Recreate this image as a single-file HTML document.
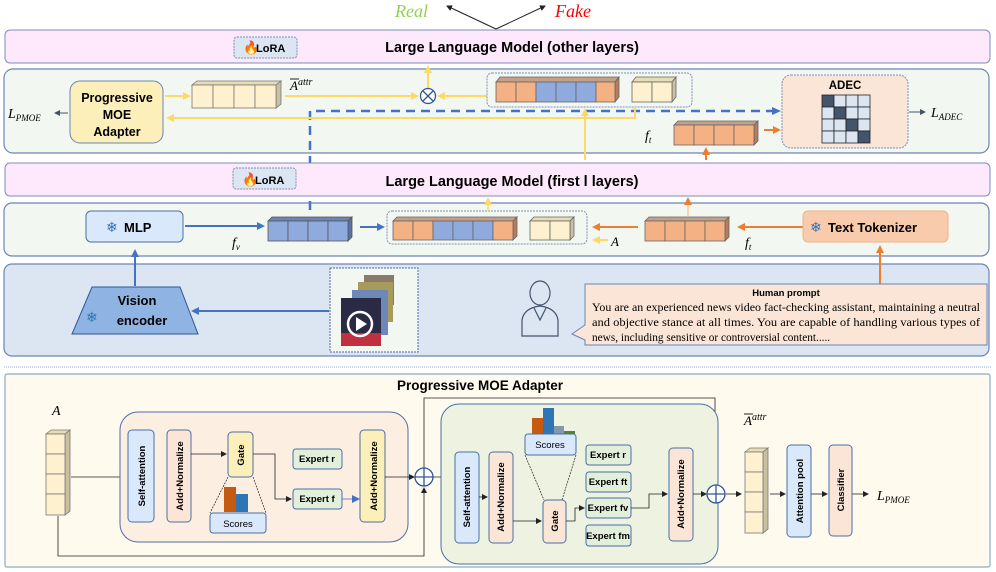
<!DOCTYPE html>
<html><head><meta charset="utf-8"><style>
body{margin:0;background:#fff}
svg{display:block}
text{font-family:"Liberation Sans",sans-serif}
text.serif, .serif text{font-family:"Liberation Serif",serif}
.b{font-weight:bold}
.m{font-family:"Liberation Serif",serif;font-style:italic}
</style></head><body>
<svg width="996" height="572" viewBox="0 0 996 572" xmlns="http://www.w3.org/2000/svg">
<defs>
<marker id="ay" markerWidth="8" markerHeight="8" refX="6" refY="4" orient="auto" markerUnits="userSpaceOnUse"><path d="M0,0 L8,4 L0,8z" fill="#ffd966"/></marker>
<marker id="ab" markerWidth="8" markerHeight="8" refX="6" refY="4" orient="auto" markerUnits="userSpaceOnUse"><path d="M0,0 L8,4 L0,8z" fill="#4472c4"/></marker>
<marker id="ao" markerWidth="8" markerHeight="8" refX="6" refY="4" orient="auto" markerUnits="userSpaceOnUse"><path d="M0,0 L8,4 L0,8z" fill="#ed7d31"/></marker>
<marker id="ak" markerWidth="6" markerHeight="6" refX="5" refY="3" orient="auto" markerUnits="userSpaceOnUse"><path d="M0,0 L6,3 L0,6z" fill="#222"/></marker>
<marker id="ag" markerWidth="6" markerHeight="6" refX="5" refY="3" orient="auto" markerUnits="userSpaceOnUse"><path d="M0,0 L6,3 L0,6z" fill="#44546a"/></marker>
</defs>

<text x="395" y="17" fill="#92d050" font-size="18" class="serif" font-style="italic">Real</text>
<text x="555" y="17" fill="#ff0000" font-size="18" class="serif" font-style="italic">Fake</text>
<line x1="496" y1="29" x2="447" y2="6" stroke="#222" marker-end="url(#ak)"/>
<line x1="496" y1="29" x2="545" y2="6" stroke="#222" marker-end="url(#ak)"/>

<rect x="5" y="30" width="985" height="33" rx="5" fill="#fde9fb" stroke="#7d8fb5"/>
<rect x="234" y="37" width="63" height="21" rx="3" fill="#dce6f2" stroke="#7d8fb5" stroke-dasharray="2,1"/>
<text x="243" y="52" font-size="13" fill="#e25b00">🔥</text>
<text x="256" y="52" font-size="11" class="b">LoRA</text>
<text x="512" y="52" font-size="14.5" class="b" text-anchor="middle">Large Language Model (other layers)</text>

<rect x="4" y="69" width="985" height="84" rx="9" fill="#f3f7f1" stroke="#6b84b5" stroke-width="1.2"/>
<rect x="70" y="81" width="93" height="62" rx="10" fill="#fdefb9" stroke="#6b84b5"/>
<text x="117" y="102" font-size="12.5" class="b" text-anchor="middle">Progressive</text>
<text x="117" y="119" font-size="12.5" class="b" text-anchor="middle">MOE</text>
<text x="117" y="136" font-size="12.5" class="b" text-anchor="middle">Adapter</text>
<line x1="68" y1="113" x2="55" y2="113" stroke="#44546a" marker-end="url(#ag)"/>
<text x="8" y="118" font-size="14" class="m">L<tspan font-size="9" dy="3">PMOE</tspan></text>
<line x1="165" y1="96" x2="189" y2="96" stroke="#ffd966" stroke-width="2" marker-end="url(#ay)"/>
<g stroke="#777" stroke-width="0.8">
<polygon points="192,85 197,81 281,81 276,85" fill="#e8dcb5"/><polygon points="276,85 281,81 281,104 276,108" fill="#c9c0a0"/>
<rect x="192" y="85" width="21" height="23" fill="#fdf1cf"/><rect x="213" y="85" width="21" height="23" fill="#fdf1cf"/><rect x="234" y="85" width="21" height="23" fill="#fdf1cf"/><rect x="255" y="85" width="21" height="23" fill="#fdf1cf"/>
</g>
<text x="290" y="90" font-size="13" class="m">A<tspan font-size="10" dy="-5">attr</tspan></text>
<line x1="290" y1="79" x2="299" y2="79" stroke="#222"/>
<line x1="285" y1="96" x2="417" y2="96" stroke="#ffd966" stroke-width="2" marker-end="url(#ay)"/>
<line x1="487" y1="96" x2="439" y2="96" stroke="#ffd966" stroke-width="2" marker-end="url(#ay)"/>
<line x1="428" y1="88" x2="428" y2="67" stroke="#ffd966" stroke-width="2" marker-end="url(#ay)"/>
<circle cx="428" cy="96" r="7.5" fill="#fff" stroke="#2f5597" stroke-width="1.3"/>
<path d="M423,91 L433,101 M433,91 L423,101" stroke="#2f5597" stroke-width="1.3"/>
<rect x="487" y="73" width="205" height="34" rx="5" fill="none" stroke="#7d8fb5" stroke-dasharray="2,1"/>
<g stroke="#666" stroke-width="0.8">
<polygon points="496,82 500,77 619,77 615,82" fill="#c5a089"/><polygon points="615,82 619,77 619,97 615,102" fill="#b47d5c"/>
<rect x="496" y="82" width="20" height="20" fill="#f4b183"/><rect x="516" y="82" width="20" height="20" fill="#f4b183"/>
<rect x="536" y="82" width="20" height="20" fill="#8faadc"/><rect x="556" y="82" width="20" height="20" fill="#8faadc"/><rect x="576" y="82" width="20" height="20" fill="#8faadc"/>
<rect x="596" y="82" width="19" height="20" fill="#f4b183"/>
<polygon points="632,82 636,77 676,77 672,82" fill="#e8dcb5"/><polygon points="672,82 676,77 676,97 672,102" fill="#c9c0a0"/>
<rect x="632" y="82" width="20" height="20" fill="#fdf1cf"/><rect x="652" y="82" width="20" height="20" fill="#fdf1cf"/>
</g>
<path d="M310,210 L310,111 L776,111" fill="none" stroke="#4472c4" stroke-width="2.5" stroke-dasharray="9,6"/>
<path d="M772,107 L781,111 L772,115z" fill="#4472c4"/>
<path d="M635,107 L635,118 L170,118" fill="none" stroke="#ffd966" stroke-width="2"/>
<path d="M174,114 L166,118 L174,122z" fill="#ffd966"/>
<line x1="585" y1="160" x2="585" y2="110" stroke="#ffd966" stroke-width="2" marker-end="url(#ay)"/>
<rect x="782" y="75" width="126" height="73" rx="9" fill="#fbe5d6" stroke="#7d8fb5" stroke-dasharray="2,1"/>
<text x="845" y="89" font-size="11.5" class="b" text-anchor="middle">ADEC</text>
<g stroke="#222" stroke-width="0.8">
<rect x="822" y="95" width="12" height="12" fill="#44546a"/><rect x="834" y="95" width="12" height="12" fill="#dce6f2"/><rect x="846" y="95" width="12" height="12" fill="#dce6f2"/><rect x="858" y="95" width="12" height="12" fill="#dce6f2"/>
<rect x="822" y="107" width="12" height="12" fill="#dce6f2"/><rect x="834" y="107" width="12" height="12" fill="#44546a"/><rect x="846" y="107" width="12" height="12" fill="#dce6f2"/><rect x="858" y="107" width="12" height="12" fill="#dce6f2"/>
<rect x="822" y="119" width="12" height="12" fill="#dce6f2"/><rect x="834" y="119" width="12" height="12" fill="#dce6f2"/><rect x="846" y="119" width="12" height="12" fill="#44546a"/><rect x="858" y="119" width="12" height="12" fill="#dce6f2"/>
<rect x="822" y="131" width="12" height="12" fill="#dce6f2"/><rect x="834" y="131" width="12" height="12" fill="#dce6f2"/><rect x="846" y="131" width="12" height="12" fill="#dce6f2"/><rect x="858" y="131" width="12" height="12" fill="#44546a"/>
</g>
<line x1="909" y1="112" x2="925" y2="112" stroke="#44546a" marker-end="url(#ag)"/>
<text x="931" y="117" font-size="14" class="m">L<tspan font-size="9" dy="3">ADEC</tspan></text>
<text x="645" y="140" font-size="14" class="m">f<tspan font-size="9" dy="3">t</tspan></text>
<g stroke="#666" stroke-width="0.8">
<polygon points="674,125 678,121 758,121 754,125" fill="#c5a089"/><polygon points="754,125 758,121 758,141 754,145" fill="#b47d5c"/>
<rect x="674" y="125" width="20" height="20" fill="#f4b183"/><rect x="694" y="125" width="20" height="20" fill="#f4b183"/><rect x="714" y="125" width="20" height="20" fill="#f4b183"/><rect x="734" y="125" width="20" height="20" fill="#f4b183"/>
</g>
<line x1="764" y1="130" x2="779" y2="130" stroke="#ed7d31" stroke-width="2" marker-end="url(#ao)"/>
<line x1="706" y1="160" x2="706" y2="149" stroke="#ed7d31" stroke-width="2" marker-end="url(#ao)"/>

<rect x="5" y="163" width="985" height="33" rx="5" fill="#fde9fb" stroke="#7d8fb5"/>
<rect x="233" y="168" width="63" height="21" rx="3" fill="#dce6f2" stroke="#7d8fb5" stroke-dasharray="2,1"/>
<text x="242" y="184" font-size="13" fill="#e25b00">🔥</text>
<text x="255" y="184" font-size="11" class="b">LoRA</text>
<text x="512" y="186" font-size="14.5" class="b" text-anchor="middle">Large Language Model (first l layers)</text>

<rect x="4" y="203" width="985" height="53" rx="8" fill="#f3f7f1" stroke="#6b84b5" stroke-width="1.2"/>
<path d="M310,203 L310,210" stroke="#4472c4" stroke-width="2.5"/>
<rect x="86" y="211" width="97" height="31" rx="5" fill="#dae8fc" stroke="#4a6fa5"/>
<text x="106" y="232" font-size="14" fill="#2e75b6">❄</text>
<text x="124" y="232" font-size="13" class="b">MLP</text>
<line x1="185" y1="226" x2="263" y2="226" stroke="#4472c4" stroke-width="2" marker-end="url(#ab)"/>
<text x="232" y="247" font-size="14" class="m">f<tspan font-size="9" dy="3">v</tspan></text>
<g stroke="#555" stroke-width="0.8">
<polygon points="268,221 272,217 352,217 348,221" fill="#6a84b8"/><polygon points="348,221 352,217 352,237 348,241" fill="#5a72a4"/>
<rect x="268" y="221" width="20" height="20" fill="#8faadc"/><rect x="288" y="221" width="20" height="20" fill="#8faadc"/><rect x="308" y="221" width="20" height="20" fill="#8faadc"/><rect x="328" y="221" width="20" height="20" fill="#8faadc"/>
</g>
<line x1="360" y1="227" x2="383" y2="227" stroke="#4472c4" stroke-width="2" marker-end="url(#ab)"/>
<rect x="387" y="211" width="200" height="33" rx="5" fill="none" stroke="#7d8fb5" stroke-dasharray="2,1"/>
<g stroke="#666" stroke-width="0.8">
<polygon points="393,221 397,217 517,217 513,221" fill="#c5a089"/><polygon points="513,221 517,217 517,236 513,240" fill="#b47d5c"/>
<rect x="393" y="221" width="20" height="19" fill="#f4b183"/><rect x="413" y="221" width="20" height="19" fill="#f4b183"/>
<rect x="433" y="221" width="20" height="19" fill="#8faadc"/><rect x="453" y="221" width="20" height="19" fill="#8faadc"/><rect x="473" y="221" width="20" height="19" fill="#8faadc"/>
<rect x="493" y="221" width="20" height="19" fill="#f4b183"/>
<polygon points="530,221 534,217 574,217 570,221" fill="#e8dcb5"/><polygon points="570,221 574,217 574,236 570,240" fill="#c9c0a0"/>
<rect x="530" y="221" width="20" height="19" fill="#fdf1cf"/><rect x="550" y="221" width="20" height="19" fill="#fdf1cf"/>
</g>
<line x1="488" y1="211" x2="488" y2="199" stroke="#ffd966" stroke-width="1.5" marker-end="url(#ay)"/>
<line x1="688" y1="216" x2="688" y2="199" stroke="#f4b183" stroke-width="1" marker-end="url(#ao)"/>
<line x1="638" y1="227" x2="594" y2="227" stroke="#ed7d31" stroke-width="2" marker-end="url(#ao)"/>
<line x1="608" y1="240" x2="594" y2="240" stroke="#ffd966" stroke-width="2" marker-end="url(#ay)"/>
<text x="611" y="246" font-size="13" class="m">A</text>
<g stroke="#666" stroke-width="0.8">
<polygon points="645,221 649,217 729,217 725,221" fill="#c5a089"/><polygon points="725,221 729,217 729,237 725,241" fill="#b47d5c"/>
<rect x="645" y="221" width="20" height="20" fill="#f4b183"/><rect x="665" y="221" width="20" height="20" fill="#f4b183"/><rect x="685" y="221" width="20" height="20" fill="#f4b183"/><rect x="705" y="221" width="20" height="20" fill="#f4b183"/>
</g>
<line x1="803" y1="227" x2="739" y2="227" stroke="#ed7d31" stroke-width="2" marker-end="url(#ao)"/>
<text x="745" y="247" font-size="14" class="m">f<tspan font-size="9" dy="3">t</tspan></text>
<rect x="803" y="211" width="145" height="31" rx="5" fill="#f8cbad" stroke="#f4b183"/>
<text x="810" y="232" font-size="14" fill="#2e75b6">❄</text>
<text x="828" y="232" font-size="13" class="b">Text Tokenizer</text>

<rect x="4" y="264" width="985" height="92" rx="8" fill="#dce6f2" stroke="#6b84b5" stroke-width="1.2"/>
<line x1="880" y1="284" x2="880" y2="247" stroke="#ed7d31" stroke-width="2" marker-end="url(#ao)"/>
<polygon points="92,287 180,287 198,334 72,334" fill="#8fb4e3" stroke="#2f5597"/>
<text x="137" y="305" font-size="13" class="b" text-anchor="middle">Vision</text>
<text x="142" y="325" font-size="13" class="b" text-anchor="middle">encoder</text>
<text x="86" y="322" font-size="14" fill="#2e75b6">❄</text>
<line x1="135" y1="286" x2="135" y2="251" stroke="#4472c4" stroke-width="2" marker-end="url(#ab)"/>
<line x1="329" y1="311" x2="193" y2="311" stroke="#4472c4" stroke-width="2" marker-end="url(#ab)"/>
<rect x="330" y="268" width="88" height="84" fill="#f3f7f1" stroke="#4a6fa5" stroke-dasharray="2,1"/>
<rect x="364" y="275" width="30" height="30" fill="#8a7a6a"/>
<rect x="358" y="282" width="35" height="40" fill="#a89a5c"/>
<rect x="352" y="290" width="36" height="45" fill="#6d88b8"/>
<rect x="341" y="298" width="40" height="48" fill="#2a2a44"/>
<rect x="341" y="333" width="40" height="13" fill="#c03040"/>
<circle cx="360" cy="324" r="12" fill="none" stroke="#fff" stroke-width="2.5"/>
<path d="M356,317 L367,324 L356,331z" fill="#fff"/>
<g fill="none" stroke="#44546a" stroke-width="1.2">
<ellipse cx="540" cy="293" rx="10" ry="12" fill="#dce6f2"/>
<path d="M522,336 L522,320 Q524,308 540,306 Q556,308 558,320 L558,336z" fill="#dce6f2"/>
<path d="M534,308 L540,320 L546,308"/>
</g>
<path d="M585,284 L987,284 L987,345 L585,345 L585,340 L572,334 L585,325z" fill="#fbe5d6" stroke="#6b84b5"/>
<text x="786" y="296" font-size="9.5" class="b" text-anchor="middle">Human prompt</text>
<g class="serif" font-size="11.3">
<text x="592" y="311" textLength="388" lengthAdjust="spacingAndGlyphs">You are an experienced news video fact-checking assistant, maintaining a neutral</text>
<text x="592" y="326" textLength="388" lengthAdjust="spacingAndGlyphs">and objective stance at all times. You are capable of handling various types of</text>
<text x="592" y="341">news, including sensitive or controversial content.....</text>
</g>

<line x1="4" y1="367" x2="992" y2="367" stroke="#9bb0d0" stroke-dasharray="1,1"/>

<rect x="5" y="374" width="985" height="193" rx="2" fill="#fefbee" stroke="#8ea9c8" stroke-width="1.2"/>
<text x="480" y="390" font-size="13.5" class="b" text-anchor="middle">Progressive MOE Adapter</text>
<text x="52" y="415" font-size="14" class="m">A</text>
<g stroke="#777" stroke-width="0.8">
<polygon points="46,434 51,430 70,430 65,434" fill="#e8dcb5"/><polygon points="65,434 70,430 70,511 65,515" fill="#c9c0a0"/>
<rect x="46" y="434" width="19" height="20" fill="#fdf1cf"/><rect x="46" y="454" width="19" height="20" fill="#fdf1cf"/><rect x="46" y="474" width="19" height="20" fill="#fdf1cf"/><rect x="46" y="494" width="19" height="21" fill="#fdf1cf"/>
</g>
<g stroke="#222" stroke-width="0.8" fill="none">
<line x1="71" y1="477" x2="126" y2="477" marker-end="url(#ak)"/>
<line x1="153" y1="477" x2="165" y2="477" marker-end="url(#ak)"/>
<path d="M58,516 L58,556 L424,556 L424,488" marker-end="url(#ak)"/>
<path d="M424,468 L424,398 L715,398 L715,484" marker-end="url(#ak)"/>
</g>
<rect x="120" y="412" width="288" height="130" rx="18" fill="#fcefe2" stroke="#4a6fa5"/>
<g stroke="#4a6fa5">
<rect x="128" y="430" width="26" height="92" rx="4" fill="#dae8fc"/>
<rect x="167" y="430" width="24" height="92" rx="4" fill="#fbe5d6"/>
<rect x="228" y="432" width="25" height="45" rx="4" fill="#fdefb9"/>
<rect x="210" y="513" width="56" height="20" rx="3" fill="#dae8fc"/>
<rect x="293" y="449" width="49" height="20" rx="3" fill="#e2efda"/>
<rect x="293" y="489" width="49" height="20" rx="3" fill="#e2efda"/>
<rect x="360" y="430" width="25" height="92" rx="4" fill="#fdefb9"/>
</g>
<rect x="224" y="487" width="12" height="25" fill="#c55a11"/><rect x="236" y="494" width="12" height="18" fill="#2e75b6"/>
<path d="M228,477 L210,513 M253,477 L266,513" stroke="#222" stroke-width="0.7" stroke-dasharray="2,1"/>
<g font-size="9.5" class="b" text-anchor="middle">
<text transform="translate(145,476) rotate(-90)">Self-attention</text>
<text transform="translate(183,476) rotate(-90)">Add+Normalize</text>
<text transform="translate(244,455) rotate(-90)">Gate</text>
<text x="238" y="527" font-weight="normal">Scores</text>
<text x="317" y="462">Expert r</text>
<text x="317" y="502">Expert f</text>
<text transform="translate(377,476) rotate(-90)">Add+Normalize</text>
</g>
<g stroke="#222" stroke-width="0.8" fill="none">
<line x1="191" y1="454" x2="226" y2="454" marker-end="url(#ak)"/>
<path d="M253,454 L275,454 L275,499 L291,499" marker-end="url(#ak)"/>
<line x1="342" y1="499" x2="358" y2="499" stroke="#4472c4" marker-end="url(#ab)"/>
<line x1="385" y1="477" x2="414" y2="477" marker-end="url(#ak)"/>
<line x1="433" y1="477" x2="452" y2="477" marker-end="url(#ak)"/>
</g>
<circle cx="424" cy="477" r="9" fill="#fff" stroke="#2f5597" stroke-width="1.3"/>
<path d="M415,477 L433,477 M424,468 L424,486" stroke="#2f5597" stroke-width="1.3"/>

<rect x="441" y="404" width="277" height="160" rx="18" fill="#eef2e1" stroke="#4a6fa5"/>
<rect x="532" y="418" width="11" height="16" fill="#c55a11"/><rect x="543" y="408" width="11" height="26" fill="#2e75b6"/><rect x="554" y="426" width="10" height="8" fill="#8497b0"/><rect x="564" y="431" width="11" height="3" fill="#548235"/>
<g stroke="#4a6fa5">
<rect x="455" y="452" width="24" height="91" rx="4" fill="#dae8fc"/>
<rect x="489" y="452" width="24" height="91" rx="4" fill="#fbe5d6"/>
<rect x="543" y="500" width="23" height="43" rx="4" fill="#fbe5d6"/>
<rect x="525" y="434" width="51" height="21" rx="3" fill="#dae8fc"/>
<rect x="586" y="445" width="45" height="20" rx="3" fill="#e2efda"/>
<rect x="586" y="472" width="45" height="20" rx="3" fill="#e2efda"/>
<rect x="586" y="498" width="45" height="20" rx="3" fill="#e2efda"/>
<rect x="586" y="525" width="45" height="21" rx="3" fill="#e2efda"/>
<rect x="669" y="448" width="24" height="93" rx="4" fill="#fbe5d6"/>
</g>
<path d="M525,455 L544,500 M576,455 L562,500" stroke="#222" stroke-width="0.7" stroke-dasharray="2,1"/>
<g font-size="9.5" class="b" text-anchor="middle">
<text transform="translate(470,497) rotate(-90)">Self-attention</text>
<text transform="translate(504,497) rotate(-90)">Add+Normalize</text>
<text transform="translate(558,521) rotate(-90)">Gate</text>
<text x="550" y="448" font-weight="normal">Scores</text>
<text x="608" y="458">Expert r</text>
<text x="608" y="485">Expert ft</text>
<text x="608" y="511">Expert fv</text>
<text x="608" y="539">Expert fm</text>
<text transform="translate(684,494) rotate(-90)">Add+Normalize</text>
</g>
<g stroke="#222" stroke-width="0.8" fill="none">
<line x1="479" y1="497" x2="487" y2="497" marker-end="url(#ak)"/>
<path d="M513,521 L541,521" marker-end="url(#ak)"/>
<path d="M566,521 L575,521 L575,508 L584,508" marker-end="url(#ak)"/>
<path d="M631,508 L649,508 L649,494 L667,494" marker-end="url(#ak)"/>
<line x1="693" y1="494" x2="706" y2="494" marker-end="url(#ak)"/>
<line x1="726" y1="494" x2="741" y2="494" marker-end="url(#ak)"/>
<line x1="770" y1="494" x2="785" y2="494" marker-end="url(#ak)"/>
<line x1="811" y1="494" x2="827" y2="494" marker-end="url(#ak)"/>
<line x1="852" y1="494" x2="868" y2="494" marker-end="url(#ak)"/>
</g>
<circle cx="716" cy="494" r="9" fill="#fff" stroke="#2f5597" stroke-width="1.3"/>
<path d="M707,494 L725,494 M716,485 L716,503" stroke="#2f5597" stroke-width="1.3"/>
<text x="744" y="425" font-size="13" class="m">A<tspan font-size="10" dy="-5">attr</tspan></text>
<line x1="744" y1="414" x2="753" y2="414" stroke="#222"/>
<g stroke="#777" stroke-width="0.8">
<polygon points="745,452 750,448 768,448 763,452" fill="#e8dcb5"/><polygon points="763,452 768,448 768,529 763,533" fill="#c9c0a0"/>
<rect x="745" y="452" width="18" height="20" fill="#fdf1cf"/><rect x="745" y="472" width="18" height="20" fill="#fdf1cf"/><rect x="745" y="492" width="18" height="20" fill="#fdf1cf"/><rect x="745" y="512" width="18" height="21" fill="#fdf1cf"/>
</g>
<rect x="787" y="445" width="24" height="92" rx="4" fill="#dae8fc" stroke="#4a6fa5"/>
<rect x="829" y="445" width="23" height="91" rx="4" fill="#fbe5d6" stroke="#4a6fa5"/>
<g font-size="9.5" class="b" text-anchor="middle">
<text transform="translate(803,491) rotate(-90)">Attention pool</text>
<text transform="translate(844,490) rotate(-90)">Classifier</text>
</g>
<text x="877" y="500" font-size="14" class="m">L<tspan font-size="9" dy="3">PMOE</tspan></text>
</svg>
</body></html>
